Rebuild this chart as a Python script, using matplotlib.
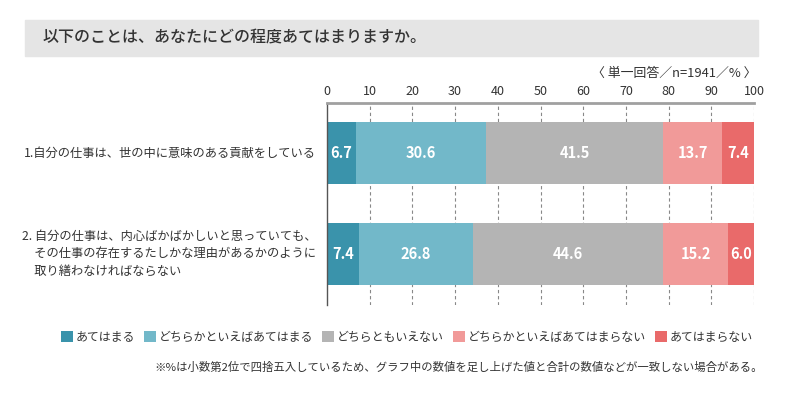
import matplotlib
matplotlib.use("Agg")
import matplotlib.pyplot as plt
from matplotlib.patches import Rectangle, Patch

plt.rcParams['font.family'] = ['Noto Sans CJK JP', 'DejaVu Sans']

title = "以下のことは、あなたにどの程度あてはまりますか。"
note_top = "〈 単一回答／n=1941／% 〉"
footnote = "※%は小数第2位で四捨五入しているため、グラフ中の数値を足し上げた値と合計の数値などが一致しない場合がある。"

questions = [
    "1.自分の仕事は、世の中に意味のある貢献をしている",
    "2. 自分の仕事は、内心ばかばかしいと思っていても、\n　その仕事の存在するたしかな理由があるかのように\n　取り繕わなければならない",
]
answers = ["あてはまる", "どちらかといえばあてはまる", "どちらともいえない",
           "どちらかといえばあてはまらない", "あてはまらない"]
values = [
    [6.7, 30.6, 41.5, 13.7, 7.4],
    [7.4, 26.8, 44.6, 15.2, 6.0],
]
colors = ["#3a93ab", "#72b8c9", "#b4b4b4", "#f19a99", "#e96a6a"]
ticks = [0, 10, 20, 30, 40, 50, 60, 70, 80, 90, 100]

W, H = 790, 399
fig = plt.figure(figsize=(W / 100, H / 100), dpi=100)

# title band
fig.patches.append(Rectangle((25 / W, 1 - 56 / H), (758 - 25) / W, 36 / H,
                             transform=fig.transFigure, color="#e5e5e5", zorder=0))
fig.text(43 / W, 1 - 38 / H, title, fontsize=11.5, fontweight="medium",
         color="#333333", va="center")
fig.text(756 / W, 1 - 73 / H, note_top, fontsize=9.3, color="#333333",
         ha="right", va="center")

ax = fig.add_axes([327 / W, 1 - 305 / H, (754 - 327) / W, (305 - 103) / H])
for i, row in enumerate(values):
    left = 0
    for v, c in zip(row, colors):
        ax.barh(i, v, left=left, height=0.617, color=c, zorder=2)
        ax.text(left + v / 2, i, f"{v:.1f}", ha="center", va="center",
                color="white", fontsize=10.5, fontweight="bold", zorder=3)
        left += v

ax.set_xlim(0, 100)
ax.set_ylim(1.512, -0.4975)
ax.set_xticks(ticks)
ax.xaxis.tick_top()
ax.tick_params(axis="x", length=0, labelsize=9, colors="#333333", pad=3.5)
ax.set_yticks([])
for x in ticks[1:]:
    ax.axvline(x, color="#888888", lw=0.8, ls=(0, (3, 2.5)), zorder=1)
for s in ["right", "bottom"]:
    ax.spines[s].set_visible(False)
ax.spines["top"].set_color("#a0a0a0")
ax.spines["top"].set_linewidth(2)
ax.spines["left"].set_color("#555555")
ax.spines["left"].set_linewidth(1)

for i, q in enumerate(questions):
    ax.text(-0.025, i, q, transform=ax.get_yaxis_transform(), ha="right",
            va="center", multialignment="left", fontsize=8.8, color="#333333",
            linespacing=1.45)

handles = [Patch(facecolor=c, edgecolor="none") for c in colors]
fig.legend(handles, answers, loc="center", bbox_to_anchor=(407 / W, 1 - 337 / H),
           ncol=5, frameon=False, fontsize=8.6, handlelength=1.0, handleheight=1.0,
           handletextpad=0.25, columnspacing=0.75, labelcolor="#333333",
           borderaxespad=0, borderpad=0)

fig.text(763 / W, 1 - 367 / H, footnote, fontsize=8.2, color="#333333",
         ha="right", va="center")

fig.savefig("out.png", dpi=100)
